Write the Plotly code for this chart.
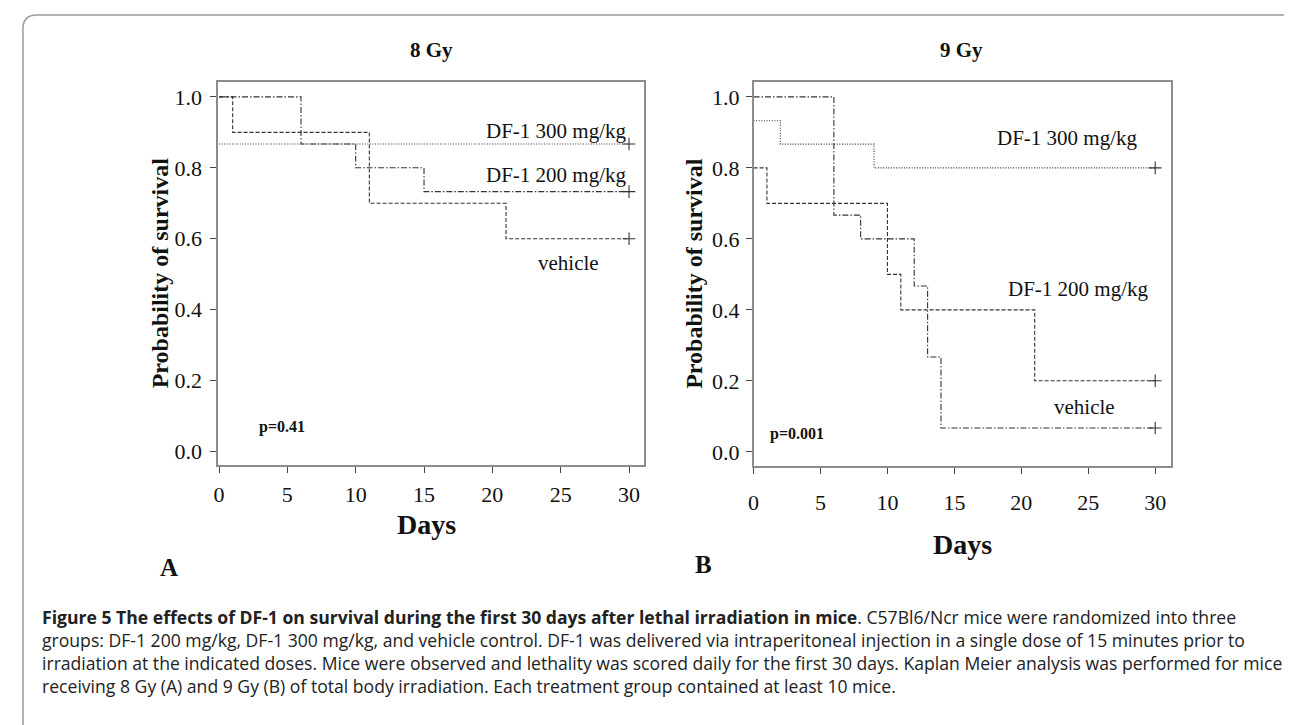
import plotly.graph_objects as go

W, H = 1292, 725

# ---------------- data ----------------
days_ticks = [0, 5, 10, 15, 20, 25, 30]
prob_ticks = [0.0, 0.2, 0.4, 0.6, 0.8, 1.0]

# 8 Gy
a_t_300 = [0, 30]
a_s_300 = [0.867, 0.867]
a_t_200 = [0, 6, 10, 15, 30]
a_s_200 = [1.0, 0.867, 0.8, 0.733, 0.733]
a_t_veh = [0, 1, 11, 21, 30]
a_s_veh = [1.0, 0.9, 0.7, 0.6, 0.6]

# 9 Gy
b_t_300 = [0, 2, 9, 30]
b_s_300 = [0.933, 0.867, 0.8, 0.8]
b_t_200 = [0, 6, 8, 12, 13, 14, 30]
b_s_200 = [1.0, 0.667, 0.6, 0.467, 0.267, 0.067, 0.067]
b_t_veh = [0, 1, 10, 11, 21, 30]
b_s_veh = [0.8, 0.7, 0.5, 0.4, 0.2, 0.2]

titles = ["8 Gy", "9 Gy"]
p_values = ["p=0.41", "p=0.001"]
caption_lines = [
    "<b>Figure 5 The effects of DF-1 on survival during the first 30 days after lethal irradiation in mice</b>. C57Bl6/Ncr mice were randomized into three",
    "groups: DF-1 200 mg/kg, DF-1 300 mg/kg, and vehicle control. DF-1 was delivered via intraperitoneal injection in a single dose of 15 minutes prior to",
    "irradiation at the indicated doses. Mice were observed and lethality was scored daily for the first 30 days. Kaplan Meier analysis was performed for mice",
    "receiving 8 Gy (A) and 9 Gy (B) of total body irradiation. Each treatment group contained at least 10 mice.",
]

# ---------------- styling ----------------
SERIF = "Liberation Serif, Times New Roman, serif"
SANS = "Open Sans, Noto Sans, sans-serif"
LINE_C = "#333333"
DOT = "1px,1.6px"
DASHDOT = "6px,2px,1.5px,2px"
DASH = "4px,2px"

def px(x):
    return x / W

def py(y):
    return 1 - y / H

fig = go.Figure()

def add_curve(t, s, dash, xa, ya, name):
    fig.add_trace(go.Scatter(x=t, y=s, mode="lines", line=dict(shape="hv", color=LINE_C, width=1.1, dash=dash),
                             xaxis=xa, yaxis=ya, name=name, showlegend=False, hoverinfo="skip"))
    fig.add_trace(go.Scatter(x=[t[-1]], y=[s[-1]], mode="markers",
                             marker=dict(symbol="cross-thin", size=9, line=dict(color=LINE_C, width=1.1)),
                             xaxis=xa, yaxis=ya, showlegend=False, hoverinfo="skip"))

add_curve(a_t_300, a_s_300, DOT, "x", "y", "DF-1 300 mg/kg")
add_curve(a_t_200, a_s_200, DASHDOT, "x", "y", "DF-1 200 mg/kg")
add_curve(a_t_veh, a_s_veh, DASH, "x", "y", "vehicle")
add_curve(b_t_300, b_s_300, DOT, "x2", "y2", "DF-1 300 mg/kg")
add_curve(b_t_200, b_s_200, DASHDOT, "x2", "y2", "DF-1 200 mg/kg")
add_curve(b_t_veh, b_s_veh, DASH, "x2", "y2", "vehicle")

axis_common = dict(showline=True, mirror=True, linecolor="#8c8c8c", linewidth=1.5,
                   ticks="outside", ticklen=6, tickwidth=1, tickcolor="#444",
                   showgrid=False, zeroline=False, tickfont=dict(family=SERIF, size=22, color="#111"))

fig.update_layout(
    width=W, height=H, margin=dict(l=0, r=0, t=0, b=0),
    paper_bgcolor="white", plot_bgcolor="white",
    xaxis=dict(domain=[px(205), px(633)], range=[-0.07, 31.1], tickvals=days_ticks, anchor="y",
               ticklabelstandoff=3, **axis_common),
    yaxis=dict(domain=[py(457), py(74)], range=[-0.038, 1.042], tickvals=prob_ticks, tickformat=".1f",
               anchor="x", ticklabelstandoff=4, **axis_common),
    xaxis2=dict(domain=[px(743), px(1162)], range=[0, 31.15], tickvals=days_ticks, anchor="y2",
                ticklabelstandoff=10, **axis_common),
    yaxis2=dict(domain=[py(458), py(74)], range=[-0.04, 1.042], tickvals=prob_ticks, tickformat=".1f",
                anchor="x2", ticklabelstandoff=2, **axis_common),
)

ann = []
def text(x, y, s, size, xref="paper", yref="paper", xanchor="center", bold=False, angle=0, family=SERIF,
         color="#111", align="center"):
    ann.append(dict(x=x, y=y, xref=xref, yref=yref, text=("<b>%s</b>" % s) if bold else s, showarrow=False,
                    xanchor=xanchor, yanchor="middle", textangle=angle, align=align,
                    font=dict(family=family, size=size, color=color)))

# panel titles
text(px(419), py(42), titles[0], 21, bold=True)
text(px(952), py(42), titles[1], 21, bold=True)
# y-axis titles
text(px(147), py(265), "Probability of survival", 24, bold=True, angle=-90)
text(px(683), py(265), "Probability of survival", 24, bold=True, angle=-90)
# x-axis titles
text(px(414), py(516), "Days", 28, bold=True)
text(px(953), py(536), "Days", 28, bold=True)
# panel letters
text(px(156), py(559), "A", 25, bold=True)
text(px(693), py(556), "B", 25, bold=True)

# in-panel curve labels (data coordinates)
text(30, 0.904, "DF-1 300 mg/kg", 21, "x", "y", "right")
text(30, 0.78, "DF-1 200 mg/kg", 21, "x", "y", "right")
text(25.6, 0.532, "vehicle", 21, "x", "y")
text(2.8, 0.069, p_values[0], 16, "x", "y", "left", bold=True)

text(28.9, 0.884, "DF-1 300 mg/kg", 21, "x2", "y2", "right")
text(29.7, 0.458, "DF-1 200 mg/kg", 21, "x2", "y2", "right")
text(24.7, 0.125, "vehicle", 21, "x2", "y2")
text(1.1, 0.049, p_values[1], 16, "x2", "y2", "left", bold=True)

# caption (one block, left aligned)
text(px(26), py(643), "<br>".join(caption_lines), 17.6, xanchor="left", family=SANS, color="#222", align="left")

fig.update_layout(annotations=ann)

# outer rounded border
x0, x1, y0, y1, r = 9, 1290, 7, 729, 14
rx, ry = r / W, r / H
X0, X1, Y0, Y1 = px(x0), px(x1), py(y0), py(y1)
path = (f"M {X0 + rx},{Y0} L {X1 - rx},{Y0} Q {X1},{Y0} {X1},{Y0 - ry} "
        f"L {X1},{Y1 + ry} Q {X1},{Y1} {X1 - rx},{Y1} L {X0 + rx},{Y1} Q {X0},{Y1} {X0},{Y1 + ry} "
        f"L {X0},{Y0 - ry} Q {X0},{Y0} {X0 + rx},{Y0} Z")
fig.add_shape(type="path", path=path, xref="paper", yref="paper", line=dict(color="#999999", width=1.5))

fig.write_html("out.html")
